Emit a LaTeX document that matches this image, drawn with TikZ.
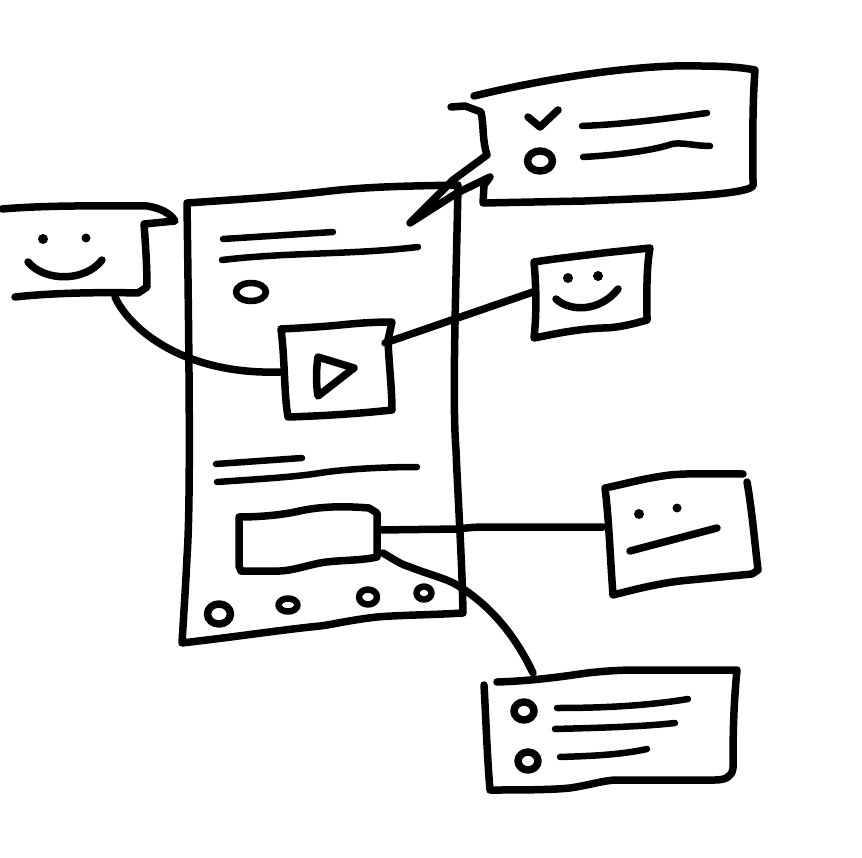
\documentclass[tikz,border=0pt]{standalone}
\tikzset{ink/.style={draw=black,line width=7.5pt,line cap=round,line join=round},
thin ink/.style={ink,line width=6.5pt}}
\begin{document}
\begin{tikzpicture}[x=1pt,y=-1pt]
\useasboundingbox[fill=white] (0,0) rectangle (862,858);
% phone
\draw[ink] (187,203) .. controls (230,200) and (280,197) .. (330,191) .. controls (375,186) and (420,186) .. (458,185) .. controls (456,290) and (452,400) .. (456,450) .. controls (458,500) and (462,560) .. (463,613) .. controls (430,615) and (400,615) .. (377,617) .. controls (350,620) and (330,625) .. (320,626) .. controls (280,630) and (250,635) .. (182,643) .. controls (184,610) and (186,580) .. (187,557) .. controls (191,500) and (189,350) .. (187,203);
\draw[thin ink] (223,239) -- (333,232);
\draw[thin ink] (222,260) .. controls (290,252) and (350,255) .. (418,247);
\draw[thin ink] (251,292) ellipse (15 and 9);
% play
\draw[ink] (281,329) .. controls (300,328) and (320,327) .. (340,325) .. controls (360,323) and (375,322) .. (392,322) -- (388,340) .. controls (389,365) and (392,390) .. (392,410) .. controls (355,414) and (320,416) .. (288,417) .. controls (284,395) and (285,360) .. (281,329);
\draw[ink] (318,357) -- (354,368) -- (318,396) .. controls (316,385) and (316,370) .. (318,357) -- cycle;
% middle lines
\draw[thin ink] (216,464) -- (302,458);
\draw[thin ink] (217,482) .. controls (260,479) and (295,477) .. (320,473) .. controls (345,469) and (385,467) .. (417,467);
% button
\draw[ink] (239,517) .. controls (260,517) and (280,515) .. (295,512) .. controls (320,506) and (345,506) .. (369,508) -- (377,513) -- (377,557) .. controls (360,561) and (335,560) .. (320,563) .. controls (300,567) and (290,572) .. (270,571) -- (241,571) -- (239,566) -- (239,517);
% dots
\draw[ink] (219,614) ellipse (11.5 and 10);
\draw[thin ink] (288,605) ellipse (9.5 and 6.5);
\draw[thin ink] (368,597) ellipse (9 and 7.5);
\draw[thin ink] (424,593) ellipse (7.5 and 6.5);
% checklist bubble
\draw[ink] (474,96) .. controls (560,75) and (650,64) .. (700,66) .. controls (720,66) and (740,67) .. (755,70) .. controls (752,110) and (753,150) .. (753,186) .. controls (745,196) and (650,198) .. (585,201) -- (483,203) -- (484,185) -- (490,177) -- (457,193) -- (410,223) -- (453,180) -- (487,155) .. controls (482,140) and (484,125) .. (481,112) -- (465,106) -- (451,107);
\draw[ink] (528,117) -- (540,127) -- (558,110);
\draw[ink] (540,161) ellipse (12.5 and 10);
\draw[thin ink] (582,126) .. controls (630,124) and (670,118) .. (707,113);
\draw[thin ink] (583,157) .. controls (620,155) and (655,150) .. (672,144) .. controls (682,142) and (695,146) .. (710,146);
% left bubble
\draw[ink] (2,209) .. controls (50,205) and (100,206) .. (147,206) .. controls (160,208) and (170,213) .. (175,221) -- (144,224) .. controls (146,250) and (147,270) .. (147,287) -- (138,293) .. controls (100,292) and (50,293) .. (15,297);
\fill (43,239) circle (5);
\fill (86,238) circle (4.5);
\draw[ink] (28,262) .. controls (45,282) and (85,282) .. (102,260);
% connector smile bubble
\draw[ink] (115,297) .. controls (130,330) and (185,375) .. (280,372);
% right smile
\draw[ink] (534,262) .. controls (560,258) and (580,256) .. (603,253) -- (650,248) .. controls (646,270) and (647,295) .. (647,320) .. controls (630,325) and (615,328) .. (603,328) .. controls (575,329) and (550,335) .. (534,338) .. controls (537,310) and (536,285) .. (534,262);
\fill (568,278) circle (5);
\fill (598,276) circle (5);
\draw[ink] (556,299) .. controls (570,312) and (600,312) .. (618,289);
\draw[ink] (385,343) -- (533,292);
% neutral face
\draw[ink] (743,474) .. controls (715,474) and (690,473) .. (670,475) .. controls (645,478) and (625,484) .. (605,488) .. controls (609,520) and (610,555) .. (613,595) .. controls (640,588) and (665,582) .. (690,580) -- (752,574) -- (758,570) .. controls (755,545) and (752,510) .. (747,482);
\fill (639,514) circle (5);
\fill (677,508) circle (4.5);
\draw[ink] (630,551) -- (717,528);
\draw[ink] (378,530) -- (460,529) .. controls (470,527) and (480,527) .. (500,527) -- (603,527);
% bottom list
\draw[ink] (484,685) .. controls (486,720) and (487,755) .. (490,790) .. controls (520,790) and (550,790) .. (570,788) .. controls (590,785) and (605,780) .. (617,780) -- (715,780) .. controls (725,780) and (732,777) .. (733,768) .. controls (733,745) and (733,710) .. (737,670) -- (637,670) .. controls (620,670) and (605,671) .. (587,673) .. controls (560,677) and (530,681) .. (497,682);
\draw[ink] (524,711) ellipse (10 and 9);
\draw[ink] (528,761) ellipse (10 and 9);
\draw[thin ink] (557,708) .. controls (590,708) and (640,707) .. (688,699);
\draw[thin ink] (555,729) .. controls (590,728) and (640,727) .. (675,723);
\draw[thin ink] (560,757) .. controls (590,756) and (620,755) .. (647,749);
\draw[ink] (383,553) .. controls (395,560) and (400,564) .. (410,567) .. controls (430,575) and (445,578) .. (457,585) .. controls (490,605) and (515,635) .. (533,673);
\end{tikzpicture}
\end{document}
